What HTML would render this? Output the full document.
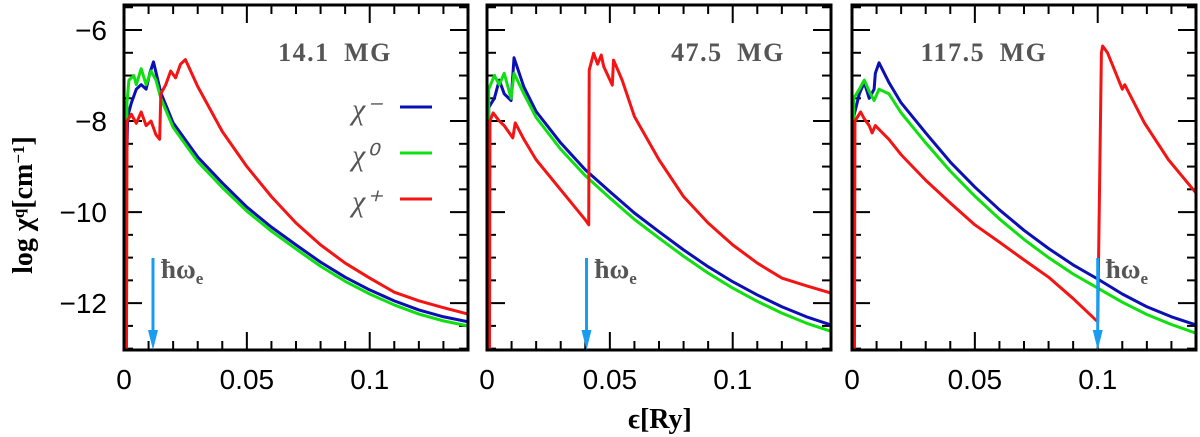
<!DOCTYPE html>
<html><head><meta charset="utf-8">
<style>
html,body{margin:0;padding:0;background:#fff;}
svg{display:block;}
</style></head>
<body>
<svg id="chart" width="1200" height="437" viewBox="0 0 1200 437" xmlns="http://www.w3.org/2000/svg" font-family="Liberation Sans, sans-serif"></svg>
<script>
const panelTitles = ["14.1 MG","47.5 MG","117.5 MG"];
const cyclotron = [0.0118, 0.0405, 0.1];
const xTicks = [0, 0.05, 0.1];
const xTickLabels = ["0","0.05","0.1"];
const yTicks = [-6,-8,-10,-12];
const yTickLabels = ["\u22126","\u22128","\u221210","\u221212"];
// panel 1
const p1Blue = [[0,-9.4],[0.001,-9.2],[0.0015,-7.9],[0.003,-7.6],[0.005,-7.3],[0.007,-7.2],[0.009,-7.3],[0.0105,-6.95],[0.012,-6.7],[0.015,-7.38],[0.02,-8.04],[0.03,-8.79],[0.04,-9.36],[0.05,-9.89],[0.06,-10.33],[0.07,-10.72],[0.08,-11.1],[0.09,-11.43],[0.1,-11.71],[0.11,-11.95],[0.12,-12.15],[0.13,-12.3],[0.14,-12.41]];
const p1Green = [[0.001,-13],[0.0012,-7.6],[0.002,-7.1],[0.004,-7.0],[0.005,-7.2],[0.007,-6.85],[0.009,-7.2],[0.011,-6.9],[0.013,-7.1],[0.015,-7.5],[0.02,-8.14],[0.03,-8.89],[0.04,-9.46],[0.05,-9.98],[0.06,-10.42],[0.07,-10.81],[0.08,-11.19],[0.09,-11.52],[0.1,-11.8],[0.11,-12.04],[0.12,-12.24],[0.13,-12.39],[0.14,-12.5]];
const p1Red = [[0.001,-13],[0.0012,-8.0],[0.003,-7.85],[0.005,-8.05],[0.007,-7.8],[0.009,-8.1],[0.011,-8.0],[0.013,-8.3],[0.0145,-8.4],[0.015,-7.4],[0.017,-7.2],[0.019,-6.9],[0.021,-7.05],[0.023,-6.75],[0.025,-6.65],[0.03,-7.24],[0.04,-8.23],[0.05,-9.0],[0.06,-9.66],[0.07,-10.24],[0.08,-10.72],[0.09,-11.12],[0.1,-11.45],[0.11,-11.76],[0.12,-11.95],[0.13,-12.1],[0.14,-12.24]];
// panel 2
const p2Blue = [[0.0005,-13],[0.0007,-7.7],[0.003,-7.5],[0.005,-7.1],[0.007,-7.4],[0.0098,-7.55],[0.011,-6.61],[0.015,-7.25],[0.02,-7.79],[0.03,-8.48],[0.04,-9.07],[0.05,-9.55],[0.06,-10.02],[0.07,-10.43],[0.08,-10.83],[0.09,-11.2],[0.1,-11.53],[0.11,-11.82],[0.12,-12.08],[0.13,-12.3],[0.14,-12.48]];
const p2Green = [[0.0005,-13],[0.0007,-7.3],[0.003,-7.0],[0.005,-7.2],[0.007,-6.95],[0.0098,-7.5],[0.011,-6.95],[0.015,-7.4],[0.02,-7.92],[0.03,-8.62],[0.04,-9.2],[0.05,-9.69],[0.06,-10.16],[0.07,-10.57],[0.08,-10.97],[0.09,-11.34],[0.1,-11.67],[0.11,-11.96],[0.12,-12.22],[0.13,-12.44],[0.14,-12.62]];
const p2Red = [[0.001,-13],[0.0012,-8.0],[0.0025,-7.82],[0.005,-8.0],[0.007,-8.1],[0.0105,-8.37],[0.0115,-8.04],[0.015,-8.4],[0.02,-8.85],[0.03,-9.51],[0.04,-10.17],[0.0414,-10.28],[0.0416,-6.88],[0.0434,-6.51],[0.045,-6.75],[0.0465,-6.55],[0.0475,-6.8],[0.051,-7.21],[0.0515,-6.66],[0.055,-7.1],[0.06,-7.9],[0.07,-8.85],[0.08,-9.66],[0.09,-10.24],[0.1,-10.72],[0.11,-11.12],[0.12,-11.45],[0.13,-11.62],[0.14,-11.78]];
// panel 3
const p3Blue = [[0.0005,-13],[0.0007,-7.9],[0.003,-7.4],[0.005,-7.15],[0.007,-7.5],[0.009,-7.3],[0.0095,-6.95],[0.011,-6.72],[0.015,-7.15],[0.02,-7.6],[0.03,-8.26],[0.04,-8.9],[0.05,-9.45],[0.06,-9.95],[0.07,-10.4],[0.08,-10.8],[0.09,-11.16],[0.1,-11.47],[0.11,-11.8],[0.12,-12.08],[0.13,-12.3],[0.14,-12.48]];
const p3Green = [[0.0005,-13],[0.0007,-7.5],[0.003,-7.3],[0.005,-7.1],[0.007,-7.35],[0.009,-7.55],[0.011,-7.3],[0.015,-7.4],[0.02,-7.82],[0.03,-8.48],[0.04,-9.1],[0.05,-9.65],[0.06,-10.15],[0.07,-10.6],[0.08,-11.0],[0.09,-11.36],[0.1,-11.67],[0.11,-11.98],[0.12,-12.25],[0.13,-12.47],[0.14,-12.66]];
const p3Red = [[0.001,-13],[0.0012,-8.0],[0.0035,-7.8],[0.005,-7.95],[0.007,-8.1],[0.0082,-8.26],[0.0095,-8.1],[0.015,-8.4],[0.02,-8.74],[0.03,-9.3],[0.04,-9.8],[0.05,-10.28],[0.06,-10.66],[0.07,-11.05],[0.08,-11.43],[0.09,-11.9],[0.1,-12.41],[0.1015,-6.5],[0.102,-6.35],[0.104,-6.5],[0.1085,-7.1],[0.11,-7.3],[0.111,-7.2],[0.119,-8.04],[0.1288,-8.85],[0.14,-9.58]];
const panelSeries = [[p1Blue,p1Green,p1Red],[p2Blue,p2Green,p2Red],[p3Blue,p3Green,p3Red]];
const seriesColors = ["#0a10b4","#10e010","#f41414"];
const legendLabels = ["\u03c7\u207b","\u03c7\u2070","\u03c7\u207a"];

const NS="http://www.w3.org/2000/svg";
const svg=document.getElementById('chart');
function mk(tag,attrs,parent){const e=document.createElementNS(NS,tag);for(const k in attrs)e.setAttribute(k,attrs[k]);(parent||svg).appendChild(e);return e;}
const panelLeft=[124,487,852], panelW=344, pTop=5, pBottom=350;
const titleCenters=[335,728,984];
const xMax=0.14, yMin=-13.03, yMax=-5.45;
const SERIF='"Liberation Serif", serif', SANS='"Liberation Sans", sans-serif';
panelLeft.forEach((L,pi)=>{
  const g=mk('g',{});
  
  
  const X=v=>L+v/xMax*panelW;
  const Y=v=>pBottom-(v-yMin)/(yMax-yMin)*(pBottom-pTop);
  const clip=mk('clipPath',{id:'c'+pi},g);mk('rect',{x:L,y:pTop,width:panelW,height:pBottom-pTop},clip);
  for(let i=0;i<=14;i++){const v=i*0.01;const len=(i%5==0)?18:9;const x=X(v);
    mk('line',{x1:x,y1:pBottom,x2:x,y2:pBottom-len,stroke:'#000','stroke-width':2},g);
    mk('line',{x1:x,y1:pTop,x2:x,y2:pTop+len,stroke:'#000','stroke-width':2},g);}
  for(let v=-13;v<=-5.5;v+=0.5){const y=Y(v);const len=(Math.abs(v%2)<0.01)?18:9;
    mk('line',{x1:L,y1:y,x2:L+len,y2:y,stroke:'#000','stroke-width':2},g);
    mk('line',{x1:L+panelW,y1:y,x2:L+panelW-len,y2:y,stroke:'#000','stroke-width':2},g);}
  const names=['chi-minus','chi-zero','chi-plus'];
  panelSeries[pi].forEach((s,si)=>{
    const p=mk('polyline',{points:s.map(d=>X(d[0])+','+Y(d[1])).join(' '),fill:'none',stroke:seriesColors[si],'stroke-width':3,'clip-path':'url(#c'+pi+')','stroke-linejoin':'round'},g);
    
    
  });
  mk('rect',{x:L,y:pTop,width:panelW,height:pBottom-pTop,fill:'none',stroke:'#000','stroke-width':3},g);
  const ax=X(cyclotron[pi]);
  const ar=mk('g',{},g);
  
  
  mk('line',{x1:ax,y1:258,x2:ax,y2:338,stroke:'#1a9cf0','stroke-width':3},ar);
  mk('polygon',{points:`${ax-5},330 ${ax+5},330 ${ax},350`,fill:'#1a9cf0'},ar);
  const hl=mk('text',{x:ax+8,y:278,'font-size':27,'font-weight':'bold',fill:'#555','font-family':SERIF},g);
  hl.innerHTML='\u0127\u03c9<tspan dy="6" font-size="17">e</tspan>';
  
  
  const t=mk('text',{x:titleCenters[pi],y:61,'text-anchor':'middle','font-size':26,'font-weight':'bold',fill:'#555','font-family':SERIF,'letter-spacing':'1.5'},g);
  t.textContent=panelTitles[pi].replace(' ','\u2002');
  
  
  xTicks.forEach((v,i)=>{const tl=mk('text',{x:X(v),y:389,'text-anchor':'middle','font-size':28,'font-family':SANS},g);tl.textContent=xTickLabels[i];
    
    });
  if(pi==0){
    yTicks.forEach((v,i)=>{const tl=mk('text',{x:107,y:Y(v)+10,'text-anchor':'end','font-size':28,'font-family':SANS},g);tl.textContent=yTickLabels[i];
      
      });
    legendLabels.forEach((lab,i)=>{const y=107+i*46;
      const lt=mk('text',{x:352,y:y+12,'font-size':30,fill:'#555','font-family':SERIF,'font-style':'italic'},g);lt.textContent=lab;
      
      
      const ll=mk('line',{x1:400,y1:y,x2:432,y2:y,stroke:seriesColors[i],'stroke-width':3},g);
      
      });
  }
});
const xt=mk('text',{x:660,y:428,'text-anchor':'middle','font-size':28,'font-family':SERIF,'font-weight':'bold'});
xt.textContent='\u03f5[Ry]';


const yt=mk('text',{x:0,y:0,'text-anchor':'middle','font-size':28,'font-family':SERIF,'font-weight':'bold',transform:'translate(32,205) rotate(-90)'});
yt.innerHTML='log \u03c7<tspan dy="-8" font-size="17">q</tspan><tspan dy="8">[cm</tspan><tspan dy="-8" font-size="17">\u22121</tspan><tspan dy="8">]</tspan>';


</script>
</body></html>
